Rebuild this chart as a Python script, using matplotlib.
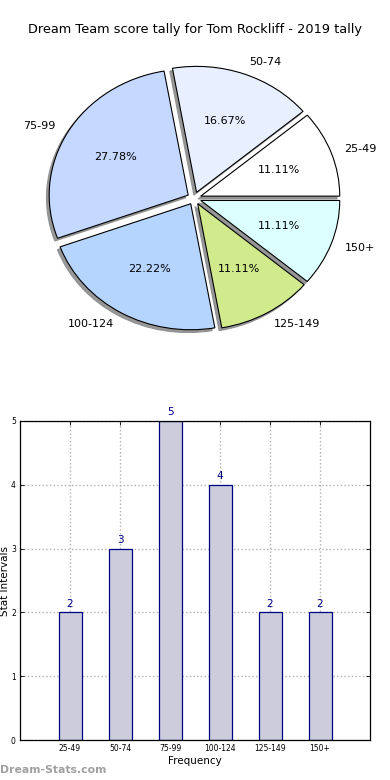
import matplotlib
matplotlib.use("Agg")
import matplotlib.pyplot as plt

title = "Dream Team score tally for Tom Rockliff - 2019 tally"
categories = ["25-49", "50-74", "75-99", "100-124", "125-149", "150+"]
counts = [2, 3, 5, 4, 2, 2]
pie_colors = ["#ffffff", "#e8f0ff", "#c5d8ff", "#b5d5ff", "#d1ea8c", "#dcffff"]
explode = [0.05, 0.05, 0.05, 0.05, 0.05, 0.05]
yticks = [0, 1, 2, 3, 4, 5]

fig = plt.figure(figsize=(3.9, 7.8), dpi=100)
fig.patch.set_facecolor("white")

W, H = 390.0, 780.0
# pie axes
cx, cy = 194.2, 198.3
rx, ry = 139.0, 126.0
top_px, bot_px = 48.0, 348.0
axp = fig.add_axes([0, (H - bot_px) / H, 1, (bot_px - top_px) / H])
wedges, texts, autotexts = axp.pie(
    counts, labels=categories, colors=pie_colors, explode=explode,
    autopct="%.2f%%",
    shadow=dict(ox=-0.014, oy=-0.016, facecolor="#8c8c8c", edgecolor="#8c8c8c",
                alpha=0.9),
    startangle=0, counterclock=True,
    wedgeprops=dict(edgecolor="black", linewidth=0.8),
    textprops=dict(fontsize=8, color="black"))
axp.set_aspect("auto")
axp.set_xlim(-cx / rx, (W - cx) / rx)
axp.set_ylim(-(bot_px - cy) / ry, (cy - top_px) / ry)
axp.axis("off")

fig.text(0.5, 1 - 30 / H, title, ha="center", va="center", fontsize=9.3)

# bar axes
axb = fig.add_axes([20 / W, 40 / H, 350 / W, 319 / H])
x = list(range(len(categories)))
bars = axb.bar(x, counts, width=0.46, color="#ccccdd", edgecolor="#000080",
               linewidth=0.9, zorder=2)
for xi, c in zip(x, counts):
    axb.text(xi, c + 0.06, str(c), ha="center", va="bottom", fontsize=7.5,
             color="#000080")
axb.set_xlim(-1, 6)
axb.set_ylim(0, 5)
axb.set_xticks(x)
axb.set_xticklabels(categories, fontsize=5.5)
axb.set_yticks(yticks)
axb.set_yticklabels([str(t) for t in yticks], fontsize=5.5)
axb.tick_params(direction="in", top=True, right=True, length=3, width=0.6, pad=3)
axb.grid(True, linestyle=":", color="#b0b0b0", linewidth=1.0, zorder=0)
axb.set_axisbelow(True)
for s in axb.spines.values():
    s.set_linewidth(0.9)
axb.set_xlabel("Frequency", fontsize=7.5, labelpad=2)
axb.set_ylabel("Stat Intervals", fontsize=7.5, labelpad=2, va="center")
axb.yaxis.set_label_coords(-15.5 / 350, 0.5)

fig.text(0.0, 1 - 770 / H, "Dream-Stats.com", ha="left", va="center",
         fontsize=7.8, color="#a0a0a0", fontweight="bold")

fig.savefig("out.png", dpi=100)
